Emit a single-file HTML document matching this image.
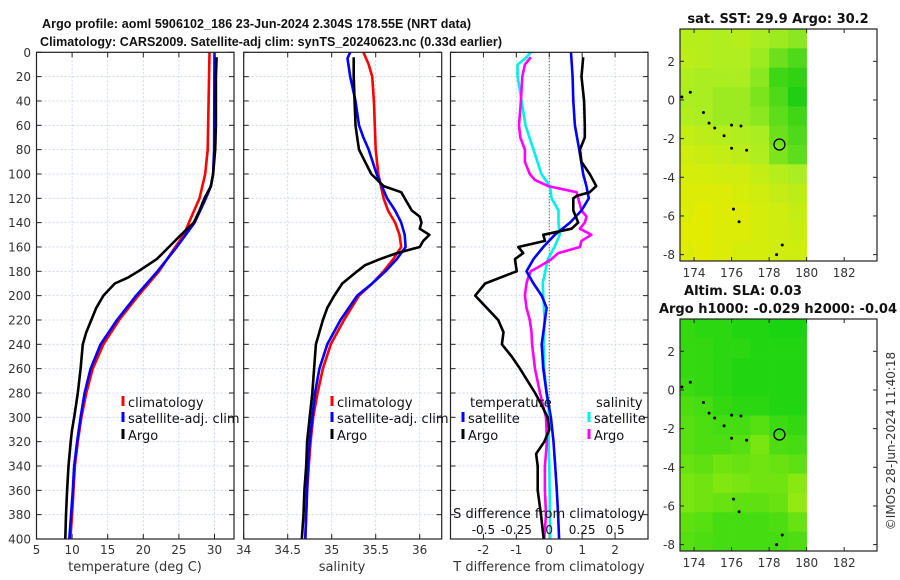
<!DOCTYPE html>
<html><head><meta charset="utf-8"><style>
body{margin:0;background:#fff;}
svg{display:block;font-family:"DejaVu Sans","Liberation Sans",sans-serif;}
</style></head><body>
<svg id="fig" width="900" height="580" viewBox="0 0 900 580"></svg>
<script>
// ---- data ----
const tDepthClim = [0,80,100,120,140,150,160,180,200,220,240,260,280,300,320,340,360,380,400];
const tClim      = [29.3,29.05,28.7,27.9,26.4,25.7,24.5,22.2,19.3,16.6,14.4,12.9,12.0,11.3,10.8,10.4,10.2,10.0,9.75];
const tDepthSat  = [0,80,100,110,120,140,160,180,200,220,240,260,280,300,320,340,360,380,400];
const tSat       = [30.0,29.95,29.8,29.5,28.8,27.2,24.7,22.0,19.0,16.3,14.0,12.6,11.75,11.2,10.7,10.3,10.1,9.86,9.6];
const tDepthArgo = [4,20,40,60,80,100,110,120,130,140,150,160,170,180,185,190,200,210,220,230,240,260,280,300,310,320,340,360,380,400];
const tArgo      = [30.3,30.2,30.2,30.2,30.1,29.8,29.5,28.6,27.9,27.1,25.3,23.6,21.9,19.3,17.9,16.0,14.4,13.4,12.7,12.0,11.5,11.2,10.8,10.3,10.0,9.8,9.5,9.3,9.15,9.05];

const sDepthClim = [0,10,20,40,60,80,100,120,130,140,150,160,170,180,190,200,220,240,260,280,300,320,340,360,380,400];
const sClim      = [35.36,35.42,35.46,35.48,35.49,35.50,35.53,35.59,35.64,35.72,35.77,35.79,35.70,35.59,35.46,35.31,35.14,34.99,34.90,34.84,34.79,34.76,34.74,34.72,34.71,34.70];
const sDepthSat  = [0,5,20,40,60,70,80,100,120,130,140,150,160,170,180,190,200,220,240,260,280,300,320,340,360,380,400];
const sSat       = [35.21,35.18,35.21,35.27,35.31,35.36,35.42,35.51,35.63,35.72,35.79,35.83,35.84,35.74,35.61,35.46,35.29,35.10,34.95,34.86,34.81,34.78,34.75,34.73,34.72,34.71,34.70];
const sDepthArgo = [4,20,40,60,70,80,90,100,110,115,120,130,135,140,145,150,155,160,165,170,175,180,190,200,210,220,230,240,260,280,300,320,340,360,380,400];
const sArgo      = [35.25,35.25,35.26,35.27,35.29,35.31,35.38,35.45,35.59,35.79,35.83,35.91,36.0,36.02,36.0,36.11,36.04,36.0,35.74,35.55,35.38,35.29,35.12,35.03,34.95,34.90,34.86,34.82,34.80,34.78,34.75,34.72,34.71,34.69,34.68,34.66];

const dDepthTA = [4,20,40,60,70,80,90,100,110,115,118,120,130,140,145,150,155,160,165,170,180,190,200,210,220,230,240,250,260,280,290,300,310,320,330,340,360,380,400];
const dTArgo   = [1.03,0.98,1.06,1.08,1.08,0.93,0.98,1.23,1.43,1.23,0.83,0.73,0.73,0.88,0.68,-0.18,-0.13,-0.94,-0.79,-1.04,-0.99,-1.95,-2.25,-1.9,-1.55,-1.39,-1.44,-1.14,-0.89,-0.43,-0.23,-0.05,0.0,-0.15,-0.4,-0.35,-0.35,-0.25,-0.17];
const dDepthTS = [0,20,40,60,80,100,110,120,130,140,150,160,170,180,190,200,210,220,240,260,280,300,320,340,360,380,400];
const dTSat    = [0.66,0.71,0.73,0.78,0.91,1.03,1.13,1.2,0.98,0.63,0.17,-0.18,-0.48,-0.69,-0.48,-0.23,-0.08,-0.13,-0.23,-0.18,-0.08,0.05,0.13,0.18,0.23,0.27,0.3];
const dDepthSS = [0,5,10,20,40,60,80,100,110,120,130,140,150,160,170,180,190,200,220,240,260,280,300,320,340,400];
const dSSat    = [-0.14,-0.18,-0.24,-0.24,-0.21,-0.18,-0.12,-0.06,0.005,0.018,0.07,0.07,0.08,0.04,-0.01,-0.03,-0.05,-0.045,-0.035,-0.043,-0.038,-0.02,0.0,-0.005,0.0,0.008];
const dDepthSA = [4,10,20,40,60,70,80,90,100,105,110,115,120,130,135,140,145,150,155,160,165,170,175,180,185,190,200,210,220,230,240,260,280,300,320,340,360,380,400];
const dSArgo   = [-0.14,-0.185,-0.205,-0.215,-0.23,-0.22,-0.185,-0.185,-0.148,-0.108,-0.008,0.208,0.22,0.245,0.283,0.27,0.233,0.32,0.245,0.233,0.068,0.018,-0.058,-0.14,-0.16,-0.173,-0.185,-0.173,-0.148,-0.135,-0.13,-0.108,-0.07,-0.025,-0.018,-0.033,-0.033,-0.025,-0.038];

const depthTicks = [0,20,40,60,80,100,120,140,160,180,200,220,240,260,280,300,320,340,360,380,400];
const tTicks = [5,10,15,20,25,30];
const sTicks = [34,34.5,35,35.5,36];
const sTickLabels = ["34","34.5","35","35.5","36"];
const dTTicks = [-2,-1,0,1,2];
const dSTicks = [-0.5,-0.25,0,0.25,0.5];
const lonTicks = [174,176,178,180,182];
const latTicks = [2,0,-2,-4,-6,-8];

const sstGrid = [
[0.4,0.4,0.45,0.4,0.5,0.55,0.6],
[0.35,0.4,0.45,0.45,0.55,0.7,0.8],
[0.45,0.5,0.5,0.5,0.6,0.85,0.9],
[0.5,0.5,0.55,0.55,0.65,0.8,0.95],
[0.45,0.5,0.55,0.55,0.6,0.75,0.85],
[0.3,0.35,0.4,0.45,0.5,0.7,0.8],
[0.2,0.25,0.3,0.35,0.45,0.65,0.75],
[0.15,0.15,0.2,0.2,0.3,0.4,0.5],
[0.1,0.1,0.1,0.15,0.2,0.3,0.35],
[0.1,0.05,0.1,0.1,0.15,0.2,0.3],
[0.05,0.05,0.1,0.1,0.15,0.2,0.25],
[0.1,0.05,0.1,0.15,0.15,0.2,0.2]];
const slaGrid = [
[0.2,0.15,0.15,0.1,0.1,0.05,0.05],
[0.2,0.2,0.15,0.15,0.1,0.1,0.1],
[0.2,0.2,0.15,0.1,0.1,0.1,0.1],
[0.25,0.2,0.15,0.1,0.1,0.1,0.1],
[0.35,0.3,0.2,0.15,0.15,0.1,0.1],
[0.4,0.35,0.3,0.3,0.4,0.25,0.2],
[0.4,0.35,0.35,0.4,0.6,0.35,0.3],
[0.5,0.45,0.55,0.5,0.55,0.5,0.45],
[0.6,0.55,0.65,0.6,0.55,0.55,0.7],
[0.6,0.55,0.5,0.45,0.45,0.5,0.75],
[0.45,0.4,0.3,0.3,0.3,0.35,0.5],
[0.4,0.35,0.3,0.3,0.3,0.3,0.35]];
const islandLon = [173.35,173.8,174.5,174.8,175.1,175.6,176.0,176.5,176.0,176.8,176.1,176.4,178.7,178.4];
const islandLat = [0.15,0.4,-0.65,-1.2,-1.45,-1.85,-1.3,-1.35,-2.5,-2.6,-5.65,-6.3,-7.5,-8.0];
const argoLon = 178.55, argoLat = -2.304;

// ---- drawing ----
const NS="http://www.w3.org/2000/svg";
const svg=document.getElementById('fig');
function el(tag,attrs,parent){const e=document.createElementNS(NS,tag);for(const k in attrs)e.setAttribute(k,attrs[k]);(parent||svg).appendChild(e);return e;}
function txt(s,attrs,parent){const e=el('text',attrs,parent);e.textContent=s;return e;}

const Y0=52.3, Y1=539;
const yD=d=>Y0+(d/400)*(Y1-Y0);

function panel(name,x0,x1,vmin,vmax,opts){
  const g=el('g',{});
  
  
  const xs=v=>x0+(v-vmin)/(vmax-vmin)*(x1-x0);
  opts.xt.forEach(v=>{el('line',{x1:xs(v),x2:xs(v),y1:Y0,y2:Y1,stroke:'#c4cdee','stroke-width':0.8,'stroke-dasharray':'2,2'},g);});
  depthTicks.forEach(d=>{el('line',{x1:x0,x2:x1,y1:yD(d),y2:yD(d),stroke:'#c4cdee','stroke-width':0.8,'stroke-dasharray':'2,2'},g);});
  depthTicks.forEach(d=>{const y=yD(d);el('line',{x1:x0,x2:x0+5,y1:y,y2:y,stroke:'#222'},g);el('line',{x1:x1,x2:x1-5,y1:y,y2:y,stroke:'#222'},g);});
  opts.xt.forEach(v=>{const x=xs(v);el('line',{x1:x,x2:x,y1:Y1,y2:Y1-5,stroke:'#222'},g);el('line',{x1:x,x2:x,y1:Y0,y2:Y0+5,stroke:'#222'},g);});
  return {g,xs};
}
function line(g,xs,vals,depths,color,name){
  const p=el('polyline',{points:vals.map((v,i)=>xs(v).toFixed(1)+','+yD(depths[i]).toFixed(1)).join(' '),fill:'none',stroke:color,'stroke-width':2.6,'stroke-linejoin':'round'},g);
  
  
}
function frame(g,x0,x1){el('rect',{x:x0,y:Y0,width:x1-x0,height:Y1-Y0,fill:'none',stroke:'#222','stroke-width':1.2},g);}

const t1=txt('Argo profile: aoml 5906102_186 23-Jun-2024 2.304S 178.55E (NRT data)',{x:42,y:28,'font-size':12.5,'font-weight':'bold',fill:'#111','font-family':'"Liberation Sans",sans-serif',textLength:429,lengthAdjust:'spacing'});

const t2=txt('Climatology: CARS2009. Satellite-adj clim: synTS_20240623.nc (0.33d earlier)',{x:40,y:46,'font-size':12.5,'font-weight':'bold',fill:'#111','font-family':'"Liberation Sans",sans-serif',textLength:462,lengthAdjust:'spacing'});


const P1=panel('temperature-panel',36.5,234,5,32.74,{xt:tTicks});
line(P1.g,P1.xs,tClim,tDepthClim,'#ff0000','temp-climatology-line');
line(P1.g,P1.xs,tSat,tDepthSat,'#0000ff','temp-satellite-line');
line(P1.g,P1.xs,tArgo,tDepthArgo,'#000','temp-argo-line');
frame(P1.g,36.5,234);
depthTicks.forEach(d=>{txt(String(d),{x:31,y:yD(d)+4.5,'text-anchor':'end','font-size':12,fill:'#333'},P1.g);});
tTicks.forEach(v=>{txt(String(v),{x:P1.xs(v),y:554,'text-anchor':'middle','font-size':12,fill:'#333'},P1.g);});
txt('temperature (deg C)',{x:135,y:571,'text-anchor':'middle','font-size':13,fill:'#333'},P1.g);

const P2=panel('salinity-panel',243.7,441.7,34,36.25,{xt:sTicks});
line(P2.g,P2.xs,sClim,sDepthClim,'#ff0000','sal-climatology-line');
line(P2.g,P2.xs,sSat,sDepthSat,'#0000ff','sal-satellite-line');
line(P2.g,P2.xs,sArgo,sDepthArgo,'#000','sal-argo-line');
frame(P2.g,243.7,441.7);
sTicks.forEach((v,i)=>{txt(sTickLabels[i],{x:P2.xs(v),y:554,'text-anchor':'middle','font-size':12,fill:'#333'},P2.g);});
txt('salinity',{x:342,y:571,'text-anchor':'middle','font-size':13,fill:'#333'},P2.g);

const P3=panel('difference-panel',450.5,648,-3,3,{xt:dTTicks});
el('line',{x1:P3.xs(0),x2:P3.xs(0),y1:Y0,y2:Y1,stroke:'#333','stroke-width':1,'stroke-dasharray':'1,2'},P3.g);
const xsS=v=>P3.xs(v*4);
line(P3.g,xsS,dSSat,dDepthSS,'#00eeee','sal-diff-satellite-line');
line(P3.g,xsS,dSArgo,dDepthSA,'#ff00ff','sal-diff-argo-line');
line(P3.g,P3.xs,dTSat,dDepthTS,'#0000ff','temp-diff-satellite-line');
line(P3.g,P3.xs,dTArgo,dDepthTA,'#000','temp-diff-argo-line');
frame(P3.g,450.5,648);
dTTicks.forEach(v=>{txt(String(v),{x:P3.xs(v),y:554,'text-anchor':'middle','font-size':12,fill:'#333'},P3.g);});
txt('T difference from climatology',{x:549,y:571,'text-anchor':'middle','font-size':13,fill:'#333'},P3.g);
txt('S difference from climatology',{x:549,y:518,'text-anchor':'middle','font-size':13,fill:'#111'},P3.g);
dSTicks.forEach(v=>{txt(String(v),{x:xsS(v),y:534,'text-anchor':'middle','font-size':12,fill:'#111'},P3.g);});

function legItem(x,y,color,label,name){
  const g=el('g',{});
  
  
  el('line',{x1:x,x2:x,y1:y-11,y2:y-1,stroke:color,'stroke-width':3},g);
  txt(label,{x:x+5,y:y,'font-size':13,fill:'#111'},g);
}
legItem(123,407,'#ff0000','climatology','legend-temp-climatology');
legItem(123,423,'#0000ff','satellite-adj. clim','legend-temp-satellite');
legItem(123,440,'#000','Argo','legend-temp-argo');
legItem(332,407,'#ff0000','climatology','legend-sal-climatology');
legItem(332,423,'#0000ff','satellite-adj. clim','legend-sal-satellite');
legItem(332,440,'#000','Argo','legend-sal-argo');
txt('temperature',{x:470,y:407,'font-size':13,fill:'#111'});
txt('salinity',{x:596,y:407,'font-size':13,fill:'#111'});
legItem(463,423,'#0000ff','satellite','legend-diff-temp-satellite');
legItem(463,440,'#000','Argo','legend-diff-temp-argo');
legItem(589,423,'#00eeee','satellite','legend-diff-sal-satellite');
legItem(589,440,'#ff00ff','Argo','legend-diff-sal-argo');

function lerpCol(a,b,t){return 'rgb('+a.map((v,i)=>Math.round(v+(b[i]-v)*t)).join(',')+')';}
function sstCol(v){const Y=[232,236,0],L=[170,238,34],G=[17,204,17];return v<0.5?lerpCol(Y,L,v/0.5):lerpCol(L,G,(v-0.5)/0.5);}
function slaCol(v){const G=[17,210,17],Y=[190,242,17];return lerpCol(G,Y,v);}
function map(name,top,bottom,grid,colFn){
  const g=el('g',{});
  
  
  const L=680,R=877,lon0=173.25,lon1=183.75,lat0=3.67,lat1=-8.33;
  const xs=v=>L+(v-lon0)/(lon1-lon0)*(R-L);
  const ys=v=>top+(lat0-v)/(lat0-lat1)*(bottom-top);
  const cols=[173.25,174,175,176,177,178,179,180];
  grid.forEach((row,r)=>row.forEach((v,c)=>{
    const la=lat0-r, lb=Math.max(lat0-r-1,lat1);
    el('rect',{x:xs(cols[c]),y:ys(la),width:xs(cols[c+1])-xs(cols[c])+0.3,height:ys(lb)-ys(la)+0.3,fill:colFn(v)},g);
  }));
  islandLon.forEach((lo,i)=>{el('ellipse',{cx:xs(lo),cy:ys(islandLat[i]),rx:1.5,ry:1.5,fill:'#000'},g);});
  el('circle',{cx:xs(argoLon),cy:ys(argoLat),r:5.5,fill:'none',stroke:'#000','stroke-width':1.3},g);
  el('rect',{x:L,y:top,width:R-L,height:bottom-top,fill:'none',stroke:'#222','stroke-width':1.2},g);
  lonTicks.forEach(v=>{const x=xs(v);el('line',{x1:x,x2:x,y1:bottom,y2:bottom-4,stroke:'#222'},g);el('line',{x1:x,x2:x,y1:top,y2:top+4,stroke:'#222'},g);
    txt(String(v),{x:x,y:bottom+16,'text-anchor':'middle','font-size':12,fill:'#333'},g);});
  latTicks.forEach(v=>{const y=ys(v);el('line',{x1:L,x2:L+4,y1:y,y2:y,stroke:'#222'},g);el('line',{x1:R,x2:R-4,y1:y,y2:y,stroke:'#222'},g);
    txt(String(v),{x:675,y:y+4.5,'text-anchor':'end','font-size':12,fill:'#333'},g);});
  return g;
}
map('sst-map',29,261,sstGrid,sstCol);
map('sla-map',319,551,slaGrid,slaCol);
txt('sat. SST: 29.9 Argo: 30.2',{x:778,y:23,'text-anchor':'middle','font-size':13,'font-weight':'bold',fill:'#111'});
txt('Altim. SLA: 0.03',{x:743,y:295,'text-anchor':'middle','font-size':13,'font-weight':'bold',fill:'#111'});
txt('Argo h1000: -0.029 h2000: -0.04',{x:778,y:313,'text-anchor':'middle','font-size':13,'font-weight':'bold',fill:'#111'});
const cp=txt('©IMOS 28-Jun-2024 11:40:18',{x:0,y:0,'text-anchor':'middle','font-size':12,fill:'#333',transform:'translate(895,441) rotate(-90)'});

</script>
</body></html>
